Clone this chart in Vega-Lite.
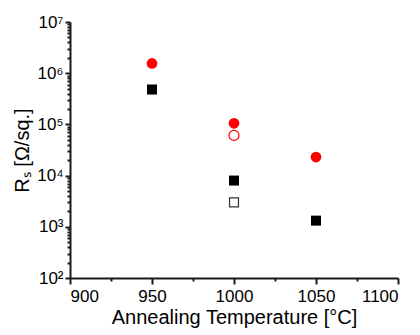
{
  "$schema": "https://vega.github.io/schema/vega-lite/v6.json",
  "width": 328,
  "height": 256,
  "autosize": {"type": "none"},
  "padding": {"left": 70, "top": 22, "right": 22, "bottom": 57},
  "config": {
    "view": {"stroke": "transparent"},
    "axis": {
      "labelFont": "Liberation Sans", "labelFontSize": 17, "labelColor": "#000000",
      "titleFont": "Liberation Sans", "titleFontSize": 20, "titleFontWeight": "normal", "titleColor": "#000000"
    }
  },
  "data": {"values": [
    {"temp": 950, "rs": 1550000, "sample": "red", "state": "filled"},
    {"temp": 1000, "rs": 105000, "sample": "red", "state": "filled"},
    {"temp": 1050, "rs": 23000, "sample": "red", "state": "filled"},
    {"temp": 1000, "rs": 61000, "sample": "red", "state": "open"},
    {"temp": 950, "rs": 480000, "sample": "black", "state": "filled"},
    {"temp": 1000, "rs": 8000, "sample": "black", "state": "filled"},
    {"temp": 1050, "rs": 1320, "sample": "black", "state": "filled"},
    {"temp": 1000, "rs": 3000, "sample": "black", "state": "open"}
  ]},
  "resolve": {"axis": {"x": "independent", "y": "independent"}},
  "layer": [
    {
      "transform": [{"filter": "datum.sample === 'red' && datum.state === 'filled'"}],
      "mark": {"type": "point", "shape": "circle", "filled": true, "color": "#ff0000", "size": 115, "opacity": 1},
      "encoding": {
        "x": {"field": "temp", "type": "quantitative",
          "scale": {"domain": [900, 1100], "nice": false, "zero": false},
          "axis": {"orient": "bottom", "grid": false, "domainColor": "#1a1a1a", "domainWidth": 2, "tickColor": "#1a1a1a", "tickWidth": 2,
            "values": [900, 950, 1000, 1050, 1100], "format": "d", "tickSize": 6, "labelPadding": 4,
            "title": "Annealing Temperature [°C]", "titlePadding": 3}},
        "y": {"field": "rs", "type": "quantitative",
          "scale": {"type": "log", "domain": [100, 10000000], "nice": false},
          "axis": {"orient": "left", "grid": false, "domainColor": "#1a1a1a", "domainWidth": 2, "tickColor": "#1a1a1a", "tickWidth": 2,
            "values": [100, 1000, 10000, 100000, 1000000, 10000000], "tickSize": 5, "labelPadding": 2,
            "labelExpr": "'10' + ['⁰','¹','²','³','⁴','⁵','⁶','⁷'][round(log(datum.value)/LN10)]",
            "title": "Rₛ [Ω/sq.]", "titlePadding": 4}}
      }
    },
    {
      "transform": [{"filter": "datum.sample === 'red' && datum.state === 'open'"}],
      "mark": {"type": "point", "shape": "circle", "filled": false, "stroke": "#ff0000", "fill": "white", "strokeWidth": 1.2, "size": 100, "opacity": 1},
      "encoding": {
        "x": {"field": "temp", "type": "quantitative",
          "axis": {"orient": "bottom", "grid": false, "values": [925, 975, 1025, 1075], "tickColor": "#1a1a1a", "tickWidth": 2, "tickSize": 3, "labels": false, "domain": false, "title": null}},
        "y": {"field": "rs", "type": "quantitative",
          "axis": {"orient": "left", "grid": false, "values": [200,300,400,500,600,700,800,900,2000,3000,4000,5000,6000,7000,8000,9000,20000,30000,40000,50000,60000,70000,80000,90000,200000,300000,400000,500000,600000,700000,800000,900000,2000000,3000000,4000000,5000000,6000000,7000000,8000000,9000000],
            "tickColor": "#1a1a1a", "tickWidth": 2, "tickSize": 3, "labels": false, "domain": false, "title": null}}
      }
    },
    {
      "transform": [{"filter": "datum.sample === 'black' && datum.state === 'filled'"}],
      "mark": {"type": "point", "shape": "square", "filled": true, "color": "black", "size": 100, "opacity": 1},
      "encoding": {
        "x": {"field": "temp", "type": "quantitative", "axis": null},
        "y": {"field": "rs", "type": "quantitative", "axis": null}
      }
    },
    {
      "transform": [{"filter": "datum.sample === 'black' && datum.state === 'open'"}],
      "mark": {"type": "point", "shape": "square", "filled": false, "stroke": "#333333", "fill": "white", "strokeWidth": 1.2, "size": 80, "opacity": 1},
      "encoding": {
        "x": {"field": "temp", "type": "quantitative", "axis": null},
        "y": {"field": "rs", "type": "quantitative", "axis": null}
      }
    }
  ]
}
